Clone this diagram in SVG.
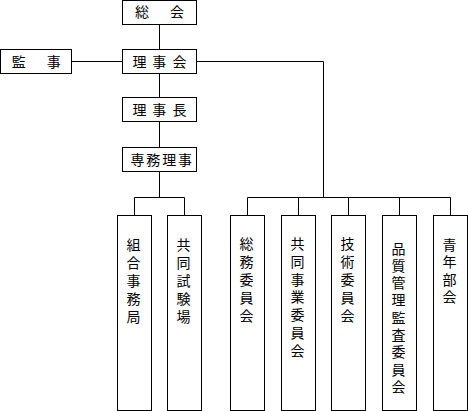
<svg xmlns="http://www.w3.org/2000/svg" width="468" height="411" viewBox="0 0 468 411">
<style>
rect{fill:#fff;stroke:#000;stroke-width:1}
line,polyline{fill:none;stroke:#000;stroke-width:1}
text{font-family:"Noto Sans CJK JP","Noto Sans CJK SC",sans-serif;font-size:14px;fill:#000;text-anchor:middle}
</style>
<rect x="0" y="0" width="468" height="411" style="stroke:none"/>
<g id="connectors">
<line x1="159.5" y1="24.5" x2="159.5" y2="49.5"/>
<line x1="159.5" y1="73.5" x2="159.5" y2="97.5"/>
<line x1="159.5" y1="121.5" x2="159.5" y2="147.5"/>
<line x1="159.5" y1="171.5" x2="159.5" y2="197.5"/>
<line x1="71.5" y1="61.5" x2="122.5" y2="61.5"/>
<polyline points="196.5,61.5 323.5,61.5 323.5,197.5"/>
<polyline points="134.5,215.5 134.5,197.5 184.5,197.5 184.5,215.5"/>
<polyline points="247.5,215.5 247.5,197.5 450.5,197.5 450.5,215.5"/>
<line x1="298.5" y1="197.5" x2="298.5" y2="215.5"/>
<line x1="348.5" y1="197.5" x2="348.5" y2="215.5"/>
<line x1="399.5" y1="197.5" x2="399.5" y2="215.5"/>
</g>
<g id="soukai"><rect x="122.5" y="0.5" width="74" height="24"/><text y="17"><tspan x="142">総</tspan><tspan x="177">会</tspan></text></g>
<g id="kanji"><rect x="0.5" y="49.5" width="71" height="24"/><text y="67"><tspan x="18.7">監</tspan><tspan x="53.7">事</tspan></text></g>
<g id="rijikai"><rect x="122.5" y="49.5" width="74" height="24"/><text y="67"><tspan x="139.5">理</tspan><tspan x="159.3">事</tspan><tspan x="179.5">会</tspan></text></g>
<g id="rijicho"><rect x="122.5" y="97.5" width="74" height="24"/><text y="115"><tspan x="139.5">理</tspan><tspan x="159.3">事</tspan><tspan x="179.5">長</tspan></text></g>
<g id="senmu"><rect x="122.5" y="147.5" width="74" height="24"/><text y="165"><tspan x="137.5">専</tspan><tspan x="153.3">務</tspan><tspan x="169.2">理</tspan><tspan x="185">事</tspan></text></g>
<g id="jimukyoku"><rect x="117.5" y="215.5" width="34" height="195"/><text y="249.5"><tspan x="133.5">組</tspan><tspan x="133.5" dy="18">合</tspan><tspan x="133.5" dy="18">事</tspan><tspan x="133.5" dy="18">務</tspan><tspan x="133.5" dy="18">局</tspan></text></g>
<g id="shikenjo"><rect x="167.5" y="215.5" width="34" height="195"/><text y="249.5"><tspan x="183.5">共</tspan><tspan x="183.5" dy="18">同</tspan><tspan x="183.5" dy="18">試</tspan><tspan x="183.5" dy="18">験</tspan><tspan x="183.5" dy="18">場</tspan></text></g>
<g id="somu"><rect x="230.5" y="215.5" width="34" height="195"/><text y="249"><tspan x="246.5">総</tspan><tspan x="246.5" dy="18">務</tspan><tspan x="246.5" dy="18">委</tspan><tspan x="246.5" dy="18">員</tspan><tspan x="246.5" dy="18">会</tspan></text></g>
<g id="kyodo"><rect x="281.5" y="215.5" width="34" height="195"/><text y="249"><tspan x="297.5">共</tspan><tspan x="297.5" dy="17.8">同</tspan><tspan x="297.5" dy="17.8">事</tspan><tspan x="297.5" dy="17.8">業</tspan><tspan x="297.5" dy="17.8">委</tspan><tspan x="297.5" dy="17.8">員</tspan><tspan x="297.5" dy="17.8">会</tspan></text></g>
<g id="gijutsu"><rect x="331.5" y="215.5" width="34" height="195"/><text y="249"><tspan x="347.5">技</tspan><tspan x="347.5" dy="18">術</tspan><tspan x="347.5" dy="18">委</tspan><tspan x="347.5" dy="18">員</tspan><tspan x="347.5" dy="18">会</tspan></text></g>
<g id="hinshitsu"><rect x="382.5" y="215.5" width="34" height="195"/><text y="253.5"><tspan x="398.5">品</tspan><tspan x="398.5" dy="17.3">質</tspan><tspan x="398.5" dy="17.3">管</tspan><tspan x="398.5" dy="17.3">理</tspan><tspan x="398.5" dy="17.3">監</tspan><tspan x="398.5" dy="17.3">査</tspan><tspan x="398.5" dy="17.3">委</tspan><tspan x="398.5" dy="17.3">員</tspan><tspan x="398.5" dy="17.3">会</tspan></text></g>
<g id="seinen"><rect x="433.5" y="215.5" width="34" height="195"/><text y="249.5"><tspan x="449.5">青</tspan><tspan x="449.5" dy="17.5">年</tspan><tspan x="449.5" dy="17.5">部</tspan><tspan x="449.5" dy="17.5">会</tspan></text></g>
</svg>
